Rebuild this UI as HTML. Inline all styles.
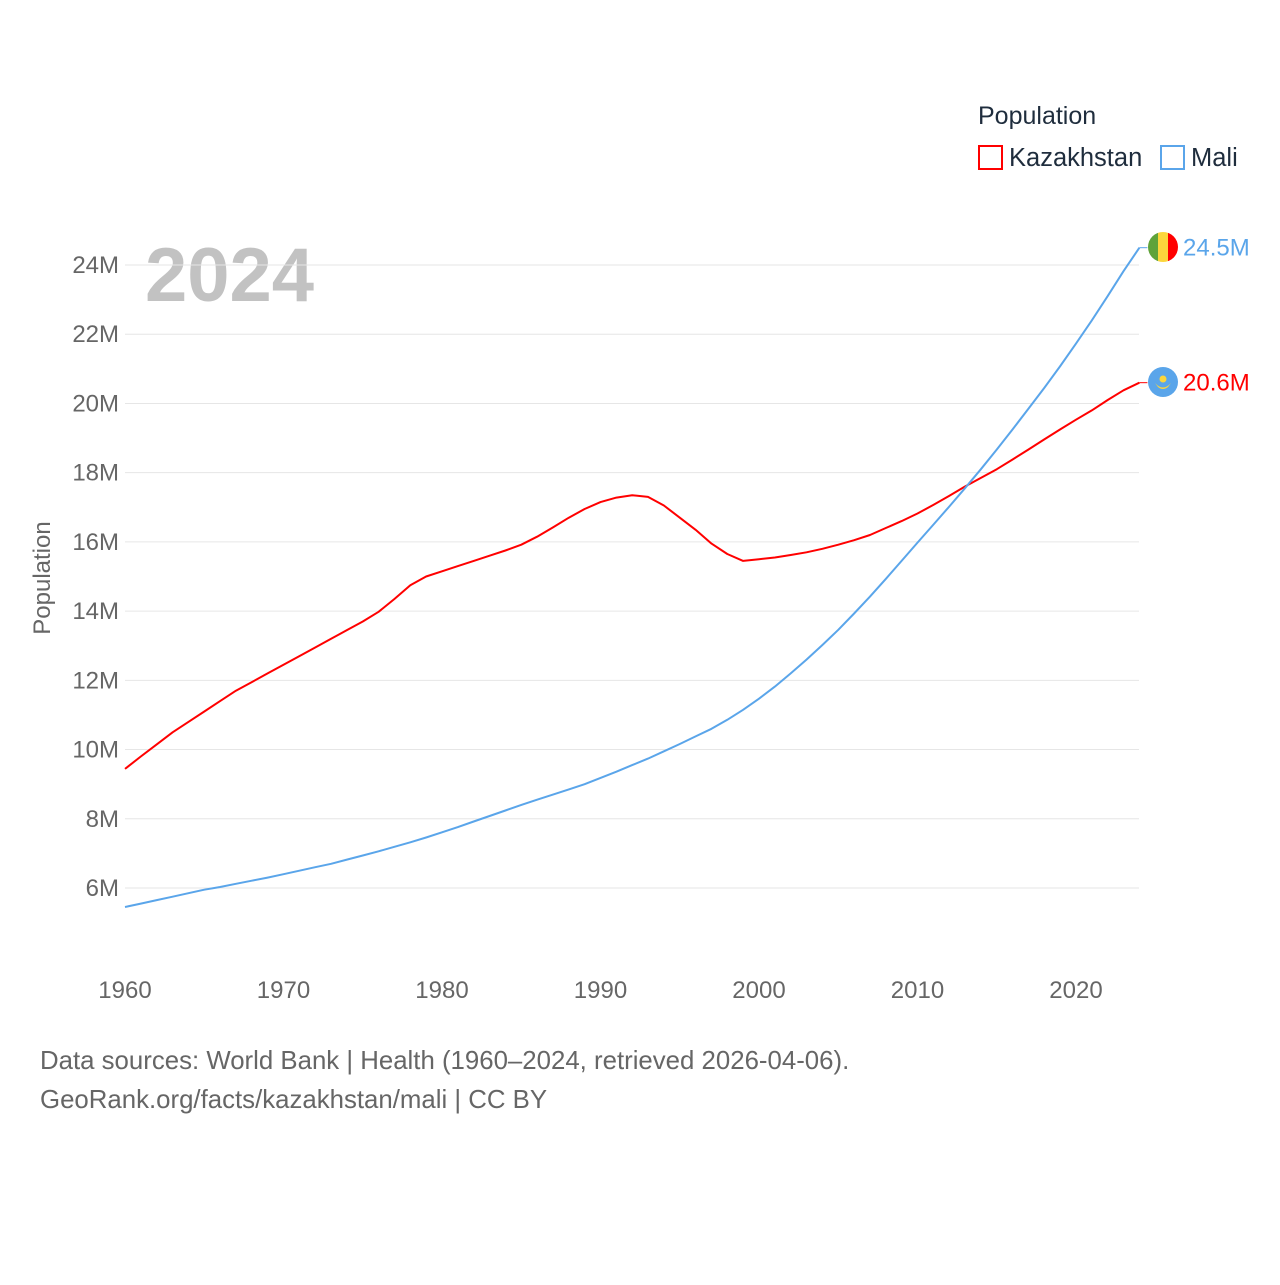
<!DOCTYPE html>
<html><head><meta charset="utf-8"><style>
body{margin:0;background:#fff;font-family:"Liberation Sans",sans-serif;}
#wrap{position:relative;width:1280px;height:1280px;}
</style></head><body>
<div id="wrap">
<svg id="chart" width="1280" height="1280" style="font-family:'Liberation Sans',sans-serif">
  <text x="978" y="124" font-size="25" fill="#1f2d3d">Population</text>
  <g>
    <rect x="979" y="146" width="23" height="23" fill="none" stroke="#ff0000" stroke-width="2"/>
    <text x="1009" y="166" font-size="25.5" fill="#1f2d3d">Kazakhstan</text>
  </g>
  <g>
    <rect x="1161" y="146" width="23" height="23" fill="none" stroke="#5aa5ea" stroke-width="2"/>
    <text x="1191" y="166" font-size="25.5" fill="#1f2d3d">Mali</text>
  </g>
  <text x="145" y="301" font-size="76" font-weight="bold" fill="#c2c2c2">2024</text>
  <g id="grid"></g>
  <g id="yticks"></g>
  <g id="xticks"></g>
  <text transform="translate(50,578) rotate(-90)" text-anchor="middle" font-size="24" fill="#666">Population</text>
  <g id="series"></g>
  <g>
    <clipPath id="mc"><circle cx="1163" cy="247" r="15"/></clipPath>
    <g clip-path="url(#mc)"><rect x="1148" y="232" width="10" height="30" fill="#5fa33a"/><rect x="1158" y="232" width="10" height="30" fill="#fcd63c"/><rect x="1168" y="232" width="10" height="30" fill="#f00"/></g>
  </g>
  <g>
    <circle cx="1163" cy="382" r="15" fill="#5aa5ea"/>
    <circle cx="1163" cy="379" r="3.5" fill="#fcd63c"/>
    <path d="M1155 383 Q1163 392 1171 383 L1168 387 Q1163 391 1158 387Z" fill="#fcd63c"/>
  </g>
  <text x="40" y="1069" font-size="25.8" fill="#666">Data sources: World Bank | Health (1960–2024, retrieved 2026-04-06).</text>
  <text x="40" y="1108" font-size="25.8" fill="#666">GeoRank.org/facts/kazakhstan/mali | CC BY</text>
</svg>
</div>
<script>
const years=[];for(let y=1960;y<=2024;y++)years.push(y);
const kazakhstan=[9.44,9.8,10.15,10.5,10.8,11.1,11.4,11.7,11.95,12.2,12.45,12.7,12.95,13.2,13.45,13.7,13.98,14.35,14.75,15.0,15.15,15.3,15.45,15.6,15.75,15.92,16.15,16.42,16.7,16.95,17.15,17.28,17.35,17.3,17.05,16.7,16.35,15.95,15.65,15.45,15.5,15.55,15.62,15.7,15.8,15.92,16.05,16.2,16.4,16.6,16.82,17.07,17.33,17.6,17.85,18.1,18.38,18.67,18.96,19.25,19.53,19.8,20.1,20.38,20.6];
const mali=[5.45,5.55,5.65,5.75,5.85,5.95,6.03,6.12,6.21,6.3,6.4,6.5,6.6,6.7,6.82,6.94,7.06,7.19,7.32,7.46,7.61,7.76,7.92,8.08,8.24,8.4,8.55,8.7,8.85,9.0,9.18,9.36,9.55,9.74,9.95,10.16,10.38,10.6,10.86,11.15,11.47,11.82,12.2,12.6,13.02,13.46,13.93,14.42,14.93,15.45,15.98,16.5,17.02,17.55,18.1,18.67,19.25,19.85,20.45,21.08,21.73,22.4,23.1,23.82,24.5];
const yTicks=[6,8,10,12,14,16,18,20,22,24];
const xTicks=[1960,1970,1980,1990,2000,2010,2020];
const NS="http://www.w3.org/2000/svg";
const xs=y=>125+(y-1960)*(1076-125)/60;
const ys=v=>888-(v-6)*(888-265)/18;
function mk(tag,attrs,parent){const e=document.createElementNS(NS,tag);for(const k in attrs)e.setAttribute(k,attrs[k]);parent.appendChild(e);return e;}
const grid=document.getElementById('grid'),yt=document.getElementById('yticks'),xt=document.getElementById('xticks'),ser=document.getElementById('series');
yTicks.forEach(v=>{
  const l=mk('line',{x1:125,x2:1139,y1:ys(v),y2:ys(v),stroke:'#e6e6e6','stroke-width':1},grid);
  
  
  const t=mk('text',{x:119,y:ys(v)+8,'text-anchor':'end','font-size':24,fill:'#666'},yt);
  t.textContent=v+'M';
  
  
});
xTicks.forEach(y=>{
  const t=mk('text',{x:xs(y),y:998,'text-anchor':'middle','font-size':24,fill:'#666'},xt);
  t.textContent=y;
  
  
});
function line(data,color,name){
  const d=data.map((v,i)=>(i?'L':'M')+xs(years[i]).toFixed(1)+' '+ys(v).toFixed(1)).join(' ');
  const p=mk('path',{d:d,fill:'none',stroke:color,'stroke-width':2,'stroke-linejoin':'round'},ser);
  
  
  const last=data[data.length-1],lx=xs(years[years.length-1]),ly=ys(last);
  mk('line',{x1:lx,y1:ly,x2:lx+8,y2:ly,stroke:color,'stroke-width':1},ser);
  const t=mk('text',{x:1183,y:ly+8,'font-size':24,fill:color},ser);
  t.textContent=last.toFixed(1)+'M';
  
  
}
line(kazakhstan,'#ff0000','kazakhstan');
line(mali,'#5aa5ea','mali');
</script>
</body></html>
